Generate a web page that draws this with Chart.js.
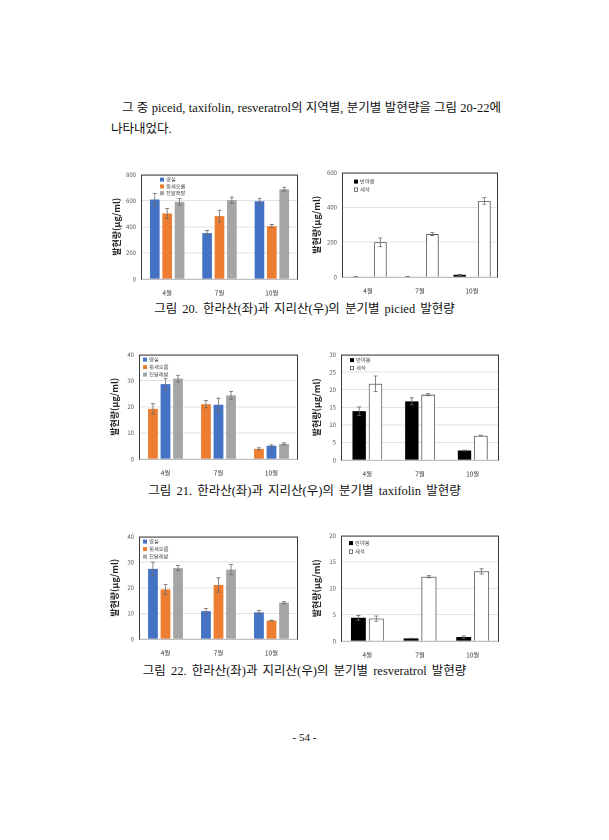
<!DOCTYPE html>
<html lang="ko">
<head>
<meta charset="utf-8">
<script src="https://cdn.jsdelivr.net/npm/chart.js@4"></script>
<style>
  html,body{margin:0;padding:0;background:#fff;}
  body{width:609px;height:840px;position:relative;overflow:hidden;
       font-family:"Liberation Serif","Noto Sans CJK KR",serif;color:#111;}
  .para{position:absolute;left:111px;top:98px;width:390px;font-size:12.5px;line-height:21px;
        text-align:justify;text-indent:11px;}
  .cap{position:absolute;left:0;width:609px;text-align:center;font-size:12.5px;word-spacing:2px;}
  .pg{position:absolute;left:0;width:609px;top:731px;text-align:center;font-size:11px;}
  canvas{position:absolute;}
</style>
</head>
<body>
<div class="para">그 중 piceid, taxifolin, resveratrol의 지역별, 분기별 발현량을 그림 20-22에 나타내었다.</div>

<canvas id="c1"></canvas>
<canvas id="c2"></canvas>
<div class="cap" style="top:298px">그림 20. 한라산(좌)과 지리산(우)의 분기별 picied 발현량</div>

<canvas id="c3"></canvas>
<canvas id="c4"></canvas>
<div class="cap" style="top:480px">그림 21. 한라산(좌)과 지리산(우)의 분기별 taxifolin 발현량</div>

<canvas id="c5"></canvas>
<canvas id="c6"></canvas>
<div class="cap" style="top:660px">그림 22. 한라산(좌)과 지리산(우)의 분기별 resveratrol 발현량</div>

<div class="pg">- 54 -</div>

<script>
// categories / series names
const months = ["4월","7월","10월"];
const hallaSites = ["영실","윗세오름","진달래밭"];
const jiriSites = ["반야봉","세석"];
const yTitle = "발현량(μg/ml)";

// picied - 한라산
const picYeongsil = [609,352,596];
const picYeongsilErr = [46,20,20];
const picWitse = [502,482,405];
const picWitseErr = [38,45,13];
const picJindal = [591,604,688];
const picJindalErr = [25,23,15];
// picied - 지리산
const picBanya = [2,2,13];
const picBanyaErr = [1,1,3];
const picSeseok = [199,247,437];
const picSeseokErr = [25,8,19];
const picTicks = [0,200,400,600,800];
const picTicksR = [0,200,400,600];

// taxifolin - 한라산 (bars drawn 윗세오름, 영실, 진달래밭)
const taxYeongsil = [28.7,20.8,5.1];
const taxYeongsilErr = [2.1,2.5,0.3];
const taxWitse = [19.2,21.0,3.9];
const taxWitseErr = [2.0,1.4,0.4];
const taxJindal = [30.8,24.4,5.8];
const taxJindalErr = [1.3,1.5,0.4];
// taxifolin - 지리산
const taxBanya = [13.9,16.7,2.7];
const taxBanyaErr = [1.2,1.0,0.1];
const taxSeseok = [21.7,18.6,6.9];
const taxSeseokErr = [2.2,0.3,0.15];
const taxTicks = [0,10,20,30,40];
const taxTicksR = [0,5,10,15,20,25,30];

// resveratrol - 한라산
const resYeongsil = [27.4,10.9,10.4];
const resYeongsilErr = [2.6,1.0,0.7];
const resWitse = [19.4,21.1,7.2];
const resWitseErr = [1.9,2.8,0.1];
const resJindal = [27.7,27.1,14.2];
const resJindalErr = [1.0,2.0,0.4];
// resveratrol - 지리산
const resBanya = [4.4,0.5,0.76];
const resBanyaErr = [0.45,0.05,0.2];
const resSeseok = [4.25,12.2,13.2];
const resSeseokErr = [0.5,0.2,0.5];
const resTicks = [0,10,20,30,40];
const resTicksR = [0,5,10,15,20];

const BLUE="#4472C4", ORANGE="#ED7D31", GRAY="#A5A5A5";
const FONT = '"Noto Sans CJK KR","Noto Sans",sans-serif';

function qs(id){ return document.getElementById(id); }

// error bars + plot frame + inside legend
const extras = {
  id:"extras",
  afterDatasetsDraw(chart){
    const ctx = chart.ctx, y = chart.scales.y;
    ctx.save();
    ctx.strokeStyle = "#6b6b6b"; ctx.lineWidth = 0.8;
    chart.data.datasets.forEach((ds,i)=>{
      if(!ds.errors) return;
      chart.getDatasetMeta(i).data.forEach((bar,j)=>{
        const v = ds.data[j], e = ds.errors[j];
        const top = y.getPixelForValue(v+e), bot = y.getPixelForValue(Math.max(0,v-e));
        const x = bar.x;
        ctx.beginPath();
        ctx.moveTo(x,top); ctx.lineTo(x,bot);
        ctx.moveTo(x-2,top); ctx.lineTo(x+2,top);
        ctx.moveTo(x-2,bot); ctx.lineTo(x+2,bot);
        ctx.stroke();
      });
    });
    ctx.restore();
  },
  afterDraw(chart, args, opts){
    const ctx = chart.ctx, a = chart.chartArea;
    ctx.save();
    ctx.strokeStyle = "#bfbfbf"; ctx.lineWidth = 1;
    ctx.beginPath(); ctx.moveTo(a.left,a.bottom+0.5); ctx.lineTo(a.right,a.bottom+0.5); ctx.stroke();
    ctx.strokeStyle = "#3a3a3a";
    ctx.beginPath();
    ctx.moveTo(a.left+0.5,a.bottom+0.5); ctx.lineTo(a.left+0.5,a.top+0.5);
    ctx.lineTo(a.right-0.5,a.top+0.5); ctx.lineTo(a.right-0.5,a.bottom+0.5);
    ctx.stroke();
    // legend
    const order = opts.order || chart.data.datasets.map((d,i)=>i);
    ctx.font = "5.3px " + FONT;
    ctx.textBaseline = "middle";
    order.forEach((di,k)=>{
      const ds = chart.data.datasets[di];
      const lx = a.left + opts.x, ly = a.top + opts.y + k*opts.gap;
      ctx.fillStyle = ds.backgroundColor;
      ctx.fillRect(lx, ly-2, 4, 4);
      if(ds.borderWidth){ ctx.strokeStyle="#222"; ctx.lineWidth=0.6; ctx.strokeRect(lx+0.3, ly-1.7, 3.4, 3.4); }
      ctx.fillStyle = "#444";
      ctx.fillText(ds.label, lx+6, ly);
    });
    ctx.restore();
  }
};

function barChart(id, box, datasets, ticks, bar, legend){
  const cv = qs(id);
  cv.style.left = box.left+"px"; cv.style.top = box.top+"px";
  cv.style.width = box.w+"px"; cv.style.height = box.h+"px";
  cv.width = box.w; cv.height = box.h;
  new Chart(cv,{
    type:"bar",
    data:{ labels:months, datasets },
    plugins:[extras],
    options:{
      responsive:false, animation:false, devicePixelRatio:2,
      layout:{ padding:{ top:box.pt, right:box.pr, left:4, bottom:0 } },
      datasets:{ bar:{ categoryPercentage:bar.cat, barPercentage:bar.bar } },
      plugins:{ legend:{display:false}, tooltip:{enabled:false}, extras:legend },
      scales:{
        x:{
          grid:{display:false}, border:{display:false},
          ticks:{ font:{size:6.5,family:FONT}, color:"#333", padding:2 },
          afterFit(s){ s.height = box.xh; }
        },
        y:{
          min:ticks[0], max:ticks[ticks.length-1],
          afterBuildTicks(s){ s.ticks = ticks.map(v=>({value:v})); },
          grid:{ color:"#d9d9d9", lineWidth:0.8, drawTicks:false },
          border:{display:false},
          ticks:{ font:{size:6,family:FONT}, color:"#555", padding:5 },
          title:{ display:true, text:yTitle, font:{size:9,family:FONT,weight:"bold"}, color:"#222", padding:0 },
          afterFit(s){ s.width = box.yw - 4; }
        }
      }
    }
  });
}

function ds(label, data, errors, color, outline){
  return { label, data, errors, backgroundColor:color,
    borderColor: outline ? "#333" : color, borderWidth: outline ? 0.8 : 0 };
}

const LB = {cat:0.71, bar:0.78};
// picied
barChart("c1",{left:107,top:166,w:198,h:130,pt:8,pr:7,xh:17,yw:34},
  [ds(hallaSites[0],picYeongsil,picYeongsilErr,BLUE),
   ds(hallaSites[1],picWitse,picWitseErr,ORANGE),
   ds(hallaSites[2],picJindal,picJindalErr,GRAY)],
  picTicks, LB, {x:19,y:5,gap:6.8});
barChart("c2",{left:307,top:164,w:198,h:130,pt:8,pr:7,xh:17,yw:35},
  [ds(jiriSites[0],picBanya,picBanyaErr,"#000"),
   ds(jiriSites[1],picSeseok,picSeseokErr,"#fff",true)],
  picTicksR, {cat:0.95,bar:0.5}, {x:12,y:9,gap:8});

// taxifolin
barChart("c3",{left:105,top:346,w:200,h:130,pt:8,pr:7,xh:17,yw:34},
  [ds(hallaSites[1],taxWitse,taxWitseErr,ORANGE),
   ds(hallaSites[0],taxYeongsil,taxYeongsilErr,BLUE),
   ds(hallaSites[2],taxJindal,taxJindalErr,GRAY)],
  taxTicks, LB, {x:4,y:5,gap:7.5, order:[1,0,2]});
barChart("c4",{left:307,top:346,w:198,h:131,pt:8,pr:6,xh:17,yw:34},
  [ds(jiriSites[0],taxBanya,taxBanyaErr,"#000"),
   ds(jiriSites[1],taxSeseok,taxSeseokErr,"#fff",true)],
  taxTicksR, {cat:0.62,bar:0.82}, {x:9,y:5.5,gap:8});

// resveratrol
barChart("c5",{left:105,top:528,w:200,h:128,pt:8,pr:7,xh:17,yw:34},
  [ds(hallaSites[0],resYeongsil,resYeongsilErr,BLUE),
   ds(hallaSites[1],resWitse,resWitseErr,ORANGE),
   ds(hallaSites[2],resJindal,resJindalErr,GRAY)],
  resTicks, LB, {x:4,y:5,gap:7.5});
barChart("c6",{left:307,top:527,w:198,h:131,pt:8,pr:6,xh:17,yw:34},
  [ds(jiriSites[0],resBanya,resBanyaErr,"#000"),
   ds(jiriSites[1],resSeseok,resSeseokErr,"#fff",true)],
  resTicksR, {cat:0.68,bar:0.83}, {x:8,y:7.5,gap:8.5});
</script>
</body>
</html>
